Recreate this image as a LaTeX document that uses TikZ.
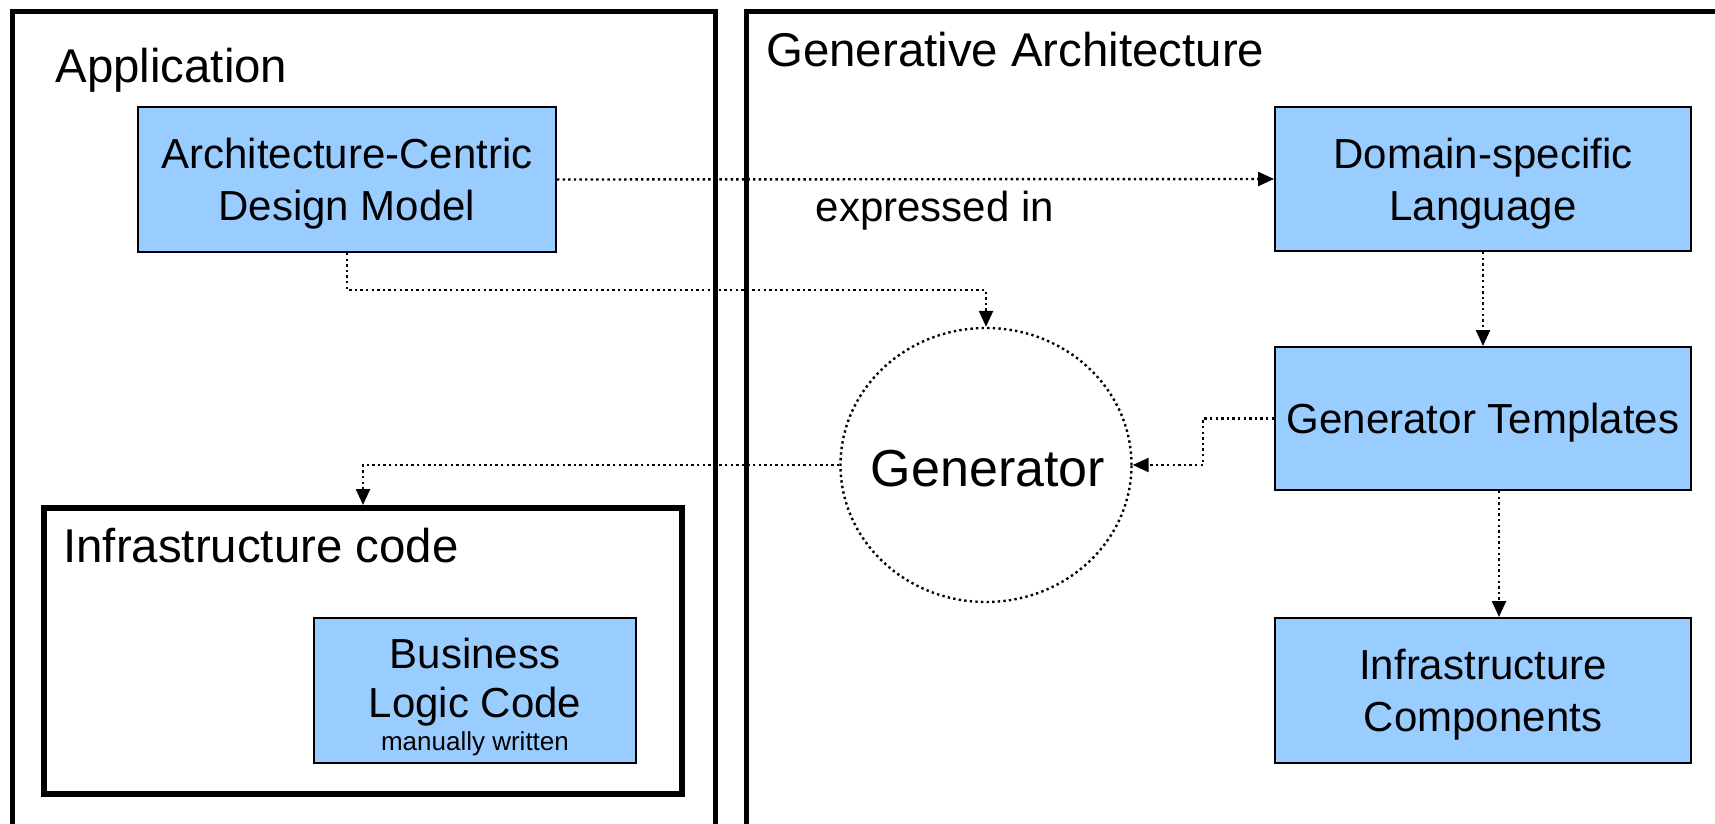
\documentclass[tikz,border=0pt]{standalone}
\usepackage{fontspec}
\setmainfont{Liberation Sans}
\usetikzlibrary{arrows.meta,shapes.geometric,calc}
\definecolor{boxblue}{RGB}{153,204,255}
\begin{document}
\begin{tikzpicture}[x=0.5pt,y=-0.5pt,
  blk/.style={draw=black,line width=1pt,fill=boxblue,inner sep=0pt,
    minimum width=208pt,minimum height=72pt,align=center,
    font=\fontsize{21}{26}\selectfont,text depth=0pt},
  outer/.style={line width=2.5pt,line join=miter},
  title/.style={inner sep=0pt,anchor=base west,font=\fontsize{23.7}{28}\selectfont},
  lbl/.style={inner sep=0pt,anchor=base,font=\fontsize{21}{26}\selectfont},
  conn/.style={line width=1.2pt,dash pattern=on 1.2pt off 1.6pt,
    -{Triangle[length=8pt,width=7pt]}}
]
\useasboundingbox (0,0) rectangle (1715,824);
\clip (0,0) rectangle (1715,824);

% outer frames
\draw[outer] (12,830) -- (12,12) -- (715,12) -- (715,830);
\draw[outer] (746,830) -- (746,12) -- (1720,12);
\node[title] (tapp) at (55,83) {Application};
\node[title] (tgen) at (766,67) {Generative Architecture};

% infrastructure code frame
\node[draw,line width=3pt,minimum width=319pt,minimum height=143pt,inner sep=0pt] (infcode) at (363,651) {};
\node[title] (tinf) at (63,562) {Infrastructure code};

% blue boxes
\node[blk,minimum width=209pt,minimum height=72.5pt] (arch) at (347,179.5) {Architecture-Centric\\Design Model};
\node[blk] (dsl) at (1483,179) {Domain-specific\\Language};
\node[blk,minimum height=71.5pt] (templ) at (1483,418.5) {Generator Templates};
\node[blk,minimum height=72.5pt] (comp) at (1483,690.5) {Infrastructure\\Components};
\node[blk,minimum width=161pt,minimum height=72.5pt] (biz) at (475,690.5) {};
\node[lbl] (biz1) at (475,668) {Business};
\node[lbl] (biz2) at (475,717) {Logic Code};
\node[inner sep=0pt,anchor=base,font=\fontsize{13}{15}\selectfont] (biz3) at (475,750) {manually written};

% generator
\node[ellipse,draw,line width=1.2pt,dash pattern=on 1.2pt off 1.6pt,minimum width=145.5pt,minimum height=137pt,inner sep=0pt] (gen) at (986,465) {};
\node[inner sep=0pt,anchor=base,font=\fontsize{26}{30}\selectfont] (gentxt) at (988,486) {Generator};

% label
\node[lbl] (expr) at (935,221) {expressed in};

% connectors
\coordinate (b1) at (986,290);
\coordinate (b2) at (1203,418.5);
\draw[conn] (arch.east) -- (dsl.west);
\draw[conn] (arch.south) |- (b1) -- (gen.north);
\draw[conn] (templ.west) -- (b2) |- (gen.east);
\draw[conn] (gen.west) -| (infcode.north);
\draw[conn] (dsl.south) -- (templ.north);
\draw[conn] ($(templ.south)+(16,0)$) -- ($(comp.north)+(16,0)$);
\end{tikzpicture}
\end{document}
